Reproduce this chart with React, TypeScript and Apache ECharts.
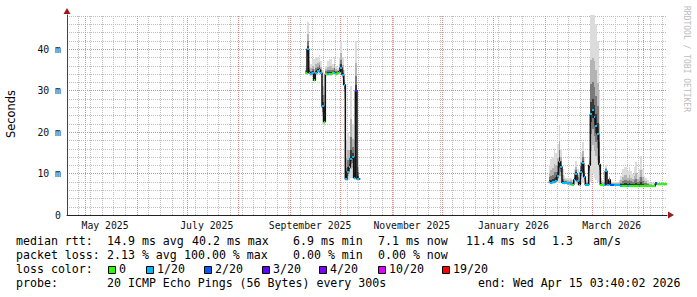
import { useEffect, useRef } from 'react';
import * as echarts from 'echarts';

const DAY = 86400000;
const rangeStart = '2025-04-20T03:40:02Z';
const rangeEnd = '2026-04-15T03:40:02Z';
const yMax = 48.2;
const yMajorStep = 10;

const yLabelValues = [0, 10, 20, 30, 40];
const yMinorGrid = [2, 4, 6, 8, 12, 14, 16, 18, 22, 24, 26, 28, 32, 34, 36, 38, 42, 44, 46, 48];
const monthStarts = [
  '2025-05-01', '2025-06-01', '2025-07-01', '2025-08-01', '2025-09-01', '2025-10-01',
  '2025-11-01', '2025-12-01', '2026-01-01', '2026-02-01', '2026-03-01', '2026-04-01',
];
const firstWeekLine = '2025-04-27';
const monthLabelMonths = ['2025-05-01', '2025-07-01', '2025-09-01', '2025-11-01', '2026-01-01', '2026-03-01'];
const monthLabelTexts = ['May 2025', 'July 2025', 'September 2025', 'November 2025', 'January 2026', 'March 2026'];

// segment 1 : Sept 10 – Oct 11 2025 (one value per day)
const seg1Start = '2025-09-10T03:40:02Z';
const seg1Median = [34.2, 40.0, 34.3, 34.0, 34.2, 32.5, 34.3, 34.8, 35.0, 34.2, 26.2, 22.5, 34.0, 34.0, 34.0, 34.0,
  34.2, 34.3, 34.0, 34.2, 34.5, 35.5, 33.8, 31.4, 8.6, 10.4, 11.5, 13.6, 14.0, 9.0, 30.0, 8.7];
const seg1Loss = [0, 1, 1, 1, 1, 0, 1, 1, 0, 1, 1, 0, 0, 1, 0, 0, 0, 1, 0, 0, 1, 1, 1, 1, 1, 1, 0, 1, 1, 1, 3, 1];
const seg1Lo = [33.8, 34.0, 33.6, 33.5, 33.6, 32.0, 33.8, 34.0, 34.2, 33.8, 22.0, 21.5, 33.6, 33.6, 33.6, 33.6,
  33.7, 33.8, 33.6, 33.8, 33.8, 34.0, 33.0, 28.0, 8.2, 8.4, 8.5, 9.0, 9.0, 8.4, 8.5, 8.3];
const seg1Hi = [35.5, 46.5, 37.0, 36.5, 37.5, 37.5, 38.0, 38.0, 38.5, 37.0, 35.0, 34.0, 36.0, 37.0, 37.5, 37.5,
  36.5, 38.0, 36.0, 35.5, 38.0, 42.0, 38.0, 35.0, 18.0, 20.0, 19.0, 31.0, 22.0, 18.0, 42.0, 14.0];

// segment 2 : Feb 3 – Apr 14 2026 (one value per day)
const seg2Start = '2026-02-03T03:40:02Z';
const seg2Median = [
  7.9, 7.8, 7.9, 8.0, 8.3, 9.5, 12.8, 11.6, 7.8, 7.7,
  7.8, 7.6, 7.5, 7.5, 7.3, 8.5, 10.0, 8.2, 7.3, 10.3,
  12.5, 9.2, 7.3, 7.3, 12.0, 24.3, 25.3, 23.5, 21.4, 19.5,
  12.2, 7.2, 7.2, 7.2, 10.6, 7.3, 8.5, 7.2, 7.2, 7.2,
  7.2, 7.2, 7.2, 7.1, 7.1, 7.1, 7.1, 7.1, 7.1, 7.1,
  7.0, 7.0, 7.0, 7.0, 7.0, 7.0, 7.0, 7.0, 7.0, 7.0,
  7.0, 7.0, 7.0, 7.0, 7.6, 7.4, 7.4, 7.4, 7.4, 7.4,
  7.4];
const seg2Loss = [
  1, 1, 1, 1, 1, 1, 1, 1, 1, 1,
  1, 1, 0, 1, 0, 1, 1, 1, 0, 1,
  1, 1, 1, 1, 1, 1, 1, 1, 1, 1,
  1, 0, 0, 1, 1, 1, 1, 2, 2, 1,
  1, 1, 1, 1, 0, 0, 0, 1, 0, 0,
  0, 0, 0, 0, 1, 0, 0, 0, 0, 0,
  0, 0, 0, 0, 2, 0, 0, 0, 0, 0,
  0];
const seg2Lo = [
  7.5, 7.4, 7.5, 7.5, 7.6, 7.8, 8.0, 7.8, 7.4, 7.3,
  7.4, 7.2, 7.1, 7.1, 7.0, 7.2, 7.5, 7.2, 7.0, 7.4,
  7.6, 7.3, 7.0, 7.0, 7.2, 8.0, 10.0, 9.0, 8.5, 8.0,
  7.5, 7.0, 7.0, 7.0, 7.0, 7.0, 7.0, 7.0, 7.0, 7.0,
  7.0, 7.0, 7.0, 6.9, 6.9, 6.9, 6.9, 6.9, 6.9, 6.9,
  6.8, 6.8, 6.8, 6.8, 6.8, 6.8, 6.8, 6.8, 6.8, 6.8,
  6.8, 6.8, 6.8, 6.8, 7.2, 7.1, 7.1, 7.1, 7.1, 7.1,
  7.1];
const seg2Hi = [
  12.0, 13.5, 14.0, 16.0, 15.0, 17.0, 22.0, 16.0, 11.0, 9.5,
  9.0, 9.0, 8.8, 9.0, 8.5, 11.0, 13.0, 11.0, 9.0, 15.0,
  17.7, 14.0, 8.5, 8.5, 14.0, 48.2, 48.2, 48.2, 46.0, 42.0,
  30.0, 9.0, 8.5, 8.0, 12.0, 8.0, 9.5, 8.0, 8.0, 8.0,
  8.0, 8.0, 8.5, 9.5, 11.0, 11.6, 11.6, 10.5, 11.5, 10.5,
  10.0, 11.5, 12.8, 10.0, 11.0, 14.2, 11.0, 9.5, 9.0, 8.5,
  8.0, 7.8, 7.6, 7.6, 8.0, 7.8, 7.7, 7.7, 7.7, 7.7,
  7.7];

const lossLevels = [0, 1, 2, 3, 4, 10, 19];
const lossLabels = ['0', '1/20', '2/20', '3/20', '4/20', '10/20', '19/20'];
const lossColors = ['#26ff00', '#00b8ff', '#0059ff', '#5e00ff', '#7e00ff', '#dd00ff', '#ff0000'];

const rttStats = ['14.9 ms avg', '40.2 ms max', '6.9 ms min', '7.1 ms now', '11.4 ms sd', '1.3', 'am/s'];
const lossStats = ['2.13 % avg', '100.00 % max', '0.00 % min', '0.00 % now'];
const probeText = '20 ICMP Echo Pings (56 Bytes) every 300s';
const endText = 'end: Wed Apr 15 03:40:02 2026';

// layout (pixels)
const rttX = [107, 192, 293, 378, 466, 552, 593];
const lossX = [107, 184, 293, 378];
const boxX = [108, 146, 204, 262, 319, 378, 442];
const rowY = [240.5, 254.8, 269.1, 283.4];

const MONO = '"DejaVu Sans Mono", monospace';
const GRID_C = '#bdbdbd';
const MGRID_C = '#e08a8a';
const BANDS = [
  { f: 1, c: '#dcdcdc' },
  { f: 0.55, c: '#b4b4b4' },
  { f: 0.3, c: '#7a7a7a' },
  { f: 0.12, c: '#3a3a3a' },
];

const ts = (s: string) => new Date(s.length === 10 ? s + 'T00:00:00Z' : s).getTime();

function lossColor(n: number) {
  for (let i = lossLevels.length - 1; i >= 0; i--) if (n >= lossLevels[i]) return lossColors[i];
  return lossColors[0];
}

function buildSeg(start: string, med: number[], lo: number[], hi: number[], loss: number[]) {
  const t0 = ts(start);
  return med.map((m, i) => [t0 + i * DAY, m, lo[i], hi[i], loss[i]]);
}

export default function App() {
  const ref = useRef<HTMLDivElement>(null);
  useEffect(() => {
    if (!ref.current) return;
    const chart = echarts.init(ref.current, null, { renderer: 'svg' });
    const s1 = buildSeg(seg1Start, seg1Median, seg1Lo, seg1Hi, seg1Loss);
    const s2 = buildSeg(seg2Start, seg2Median, seg2Lo, seg2Hi, seg2Loss);
    const samples = [...s1, ...s2];
    const gapT = (s1[s1.length - 1][0] as number) + 2 * DAY;
    const lineData: any[] = [...s1.map((d) => [d[0], d[1]]), [gapT, null], ...s2.map((d) => [d[0], d[1]])];

    const tStart = ts(rangeStart);
    const tEnd = ts(rangeEnd);
    const tMid = (tStart + tEnd) / 2;
    const weekLines: number[] = [];
    for (let t = ts(firstWeekLine); t < tEnd; t += 7 * DAY) weekLines.push(t);
    const monthLines = monthStarts.map((m) => ts(m));
    const labelVals = monthLabelMonths.map((m) => ts(m) + 12 * DAY);

    const text = (t: string, x: number, y: number, extra: any = {}) => ({
      type: 'text', x, y,
      style: { text: t, font: `11.6px ${MONO}`, fill: '#000', align: 'left', verticalAlign: 'middle', textAlign: 'left', textVerticalAlign: 'middle', ...extra },
    });

    const graphics: any[] = [
      text('median rtt:', 16, rowY[0]),
      ...rttStats.map((s, i) => text(s, rttX[i], rowY[0])),
      text('packet loss:', 16, rowY[1]),
      ...lossStats.map((s, i) => text(s, lossX[i], rowY[1])),
      text('loss color:', 16, rowY[2]),
      ...lossLabels.map((s, i) => text(s, boxX[i] + 11, rowY[2])),
      ...lossColors.map((c, i) => ({
        type: 'rect', shape: { x: boxX[i] + 0.5, y: 266.5, width: 7, height: 7 },
        style: { fill: c, stroke: '#000', lineWidth: 1 },
      })),
      text('probe:', 16, rowY[3]),
      text(probeText, 107, rowY[3]),
      text(endText, 478, rowY[3]),
      {
        type: 'text', x: 10.5, y: 114, rotation: Math.PI / 2,
        style: { text: 'Seconds', font: '11.4px "DejaVu Sans", sans-serif', fill: '#000', align: 'center', verticalAlign: 'middle', textAlign: 'center', textVerticalAlign: 'middle' },
      },
      {
        type: 'text', x: 686, y: 59, rotation: -Math.PI / 2,
        style: { text: 'RRDTOOL / TOBI OETIKER', font: `8px ${MONO}`, fill: '#bcbcbc', align: 'center', verticalAlign: 'middle', textAlign: 'center', textVerticalAlign: 'middle' },
      },
      { type: 'polygon', shape: { points: [[668, 211.5], [674, 215], [668, 218.5]] }, style: { fill: '#a01818' } },
      { type: 'polygon', shape: { points: [[63.5, 14], [67, 8], [70.5, 14]] }, style: { fill: '#a01818' } },
    ];

    const vLine = (color: string) => (_p: any, api: any) => {
      const t = api.value(0);
      const x = Math.round(api.coord([t, 0])[0]) + 0.5;
      return {
        type: 'line',
        shape: { x1: x, y1: api.coord([t, 0])[1], x2: x, y2: api.coord([t, yMax])[1] },
        style: { stroke: color, lineWidth: 1, lineDash: [1, 1] },
      };
    };
    const hLine = (color: string) => (_p: any, api: any) => {
      const v = api.value(1);
      const y = Math.round(api.coord([tMid, v])[1]) + 0.5;
      return {
        type: 'line',
        shape: { x1: api.coord([tStart, v])[0], y1: y, x2: api.coord([tEnd, v])[0], y2: y },
        style: { stroke: color, lineWidth: 1, lineDash: [1, 1] },
      };
    };

    chart.setOption({
      animation: false,
      backgroundColor: '#ffffff',
      grid: { left: 67, top: 15, width: 600, height: 200, containLabel: false },
      xAxis: {
        type: 'value', min: tStart, max: tEnd,
        axisLine: { show: true, lineStyle: { color: '#222', width: 1 } },
        axisTick: { show: false },
        splitLine: { show: false },
        axisLabel: {
          customValues: labelVals,
          formatter: (v: number) => {
            const i = labelVals.findIndex((l) => Math.abs(l - v) < DAY);
            return i >= 0 ? monthLabelTexts[i] : '';
          },
          fontFamily: MONO, fontSize: 9.8, color: '#111', margin: 5,
        },
      },
      yAxis: [
        {
          type: 'value', min: 0, max: yMax,
          axisLine: { show: true, lineStyle: { color: '#444', width: 1 } },
          axisTick: { show: false },
          splitLine: { show: false },
          axisLabel: {
            customValues: yLabelValues,
            formatter: (v: number) => (v === 0 ? '0' : `${v} m`),
            fontFamily: MONO, fontSize: 9.8, color: '#111', margin: 6,
          },
          z: 5,
        },
        {
          type: 'value', min: 0, max: yMax, interval: yMajorStep, position: 'left',
          axisLine: { show: false }, axisTick: { show: false }, axisLabel: { show: false },
          splitLine: { show: true, showMinLine: false, showMaxLine: false, lineStyle: { color: MGRID_C, width: 1, type: [1, 1] } },
        },
      ],
      series: [
        {
          type: 'custom', name: 'weekGrid', z: 1, silent: true,
          data: weekLines.map((t) => [t, 1]), encode: { x: 0, y: 1 },
          renderItem: vLine(GRID_C),
        },
        {
          type: 'custom', name: 'minorYGrid', z: 1, silent: true,
          data: yMinorGrid.map((v) => [tMid, v]), encode: { x: 0, y: 1 },
          renderItem: hLine(GRID_C),
        },
        {
          type: 'custom', name: 'monthGrid', z: 1, silent: true,
          data: monthLines.map((t) => [t, 1]), encode: { x: 0, y: 1 },
          renderItem: vLine(MGRID_C),
        },
        {
          type: 'custom', name: 'smoke', z: 2, silent: true, data: samples, encode: { x: 0, y: 1 },
          renderItem: (_p: any, api: any) => {
            const t = api.value(0), med = api.value(1), lo = api.value(2), hi = api.value(3);
            const x0 = Math.round(api.coord([t, 0])[0]);
            const x1 = Math.round(api.coord([t + DAY, 0])[0]);
            const yM = api.coord([t, med])[1];
            const yL = api.coord([t, lo])[1];
            const yH = api.coord([t, Math.min(hi, yMax)])[1];
            const children = BANDS.map((b) => {
              const top = Math.round(yM - (yM - yH) * b.f);
              const bot = Math.round(yM + (yL - yM) * b.f);
              return { type: 'rect', shape: { x: x0, y: top, width: Math.max(1, x1 - x0), height: Math.max(1, bot - top) }, style: { fill: b.c } };
            });
            return { type: 'group', children };
          },
        },
        {
          type: 'line', name: 'median', z: 3, silent: true, data: lineData, step: 'end', symbol: 'none',
          connectNulls: false, lineStyle: { color: '#111', width: 1.5 },
        },
        {
          type: 'custom', name: 'loss', z: 4, silent: true, data: samples, encode: { x: 0, y: 1 },
          renderItem: (_p: any, api: any) => {
            const t = api.value(0), med = api.value(1), loss = api.value(4);
            const x0 = Math.round(api.coord([t, 0])[0]);
            const x1 = Math.round(api.coord([t + DAY, 0])[0]);
            const yM = Math.round(api.coord([t, med])[1]);
            return { type: 'rect', shape: { x: x0, y: yM - 1, width: Math.max(1, x1 - x0), height: 2 }, style: { fill: lossColor(loss) } };
          },
        },
      ],
      graphic: graphics,
    });
    return () => chart.dispose();
  }, []);
  return <div ref={ref} style={{ position: 'absolute', left: 0, top: 0, width: 697, height: 297, background: '#fff' }} />;
}
